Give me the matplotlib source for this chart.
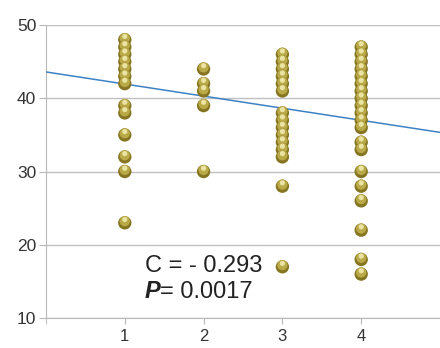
import matplotlib
matplotlib.use("Agg")
import matplotlib.pyplot as plt
import matplotlib.transforms as mtrans
import numpy as np

plt.rcParams['font.family'] = ['Liberation Sans', 'DejaVu Sans']

group1 = [48, 47, 46, 45, 44, 43, 42, 39, 38, 35, 32, 30, 23]
group2 = [44, 42, 41, 39, 30]
group3 = [46, 45, 44, 43, 42, 41, 38, 37, 36, 35, 34, 33, 32, 28, 17]
group4 = [47, 46, 45, 44, 43, 42, 41, 40, 39, 38, 37, 36, 34, 33, 30, 28, 26, 22, 18, 16]
groups = [group1, group2, group3, group4]
x_ticks = [1, 2, 3, 4]
y_ticks = [10, 20, 30, 40, 50]
trend_intercept = 43.6
trend_slope = -1.65
label_c = "C = - 0.293"
label_p = "P"
label_p_val = "= 0.0017"

fig = plt.figure(figsize=(4.4, 3.48), dpi=100)
ax = fig.add_axes([0.1045, 0.086, 0.8955, 0.842])
ax.set_xlim(0, 5)
ax.set_ylim(10, 50)

# trend line
tx = np.array([0, 5])
ax.plot(tx, trend_intercept + trend_slope * tx, color='#3f82c4', lw=1.1, zorder=3)

# golden spheres
xs, ys = [], []
for xv, g in zip(x_ticks, groups):
    xs += [xv] * len(g)
    ys += g
xs = np.array(xs); ys = np.array(ys)
order = np.argsort(-ys)
up = ax.transData + mtrans.ScaledTranslation(0, 1.2/72, fig.dpi_scale_trans)
up2 = ax.transData + mtrans.ScaledTranslation(0, 2.4/72, fig.dpi_scale_trans)
for i in order:
    ax.scatter([xs[i]], [ys[i]], s=92, color='#857521', edgecolors='none', zorder=4)
    ax.scatter([xs[i]], [ys[i]], s=55, color='#b9a947', edgecolors='none', zorder=4, transform=up)
    ax.scatter([xs[i]], [ys[i]], s=14, color='#ebe3a4', edgecolors='none', zorder=4, transform=up2)

ax.set_yticks(y_ticks)
ax.set_xticks(x_ticks)
ax.set_xticks([0, 1, 2, 3, 4, 5], minor=True)
ax.tick_params(axis='x', which='minor', length=4, color='#b8b8b8')
ax.tick_params(axis='x', which='major', length=4, color='#b8b8b8', labelsize=12, labelcolor='#333333', pad=4)
ax.tick_params(axis='y', length=5, color='#b8b8b8', labelsize=12.5, labelcolor='#333333', pad=2)
ax.grid(axis='y', color='#c0c0c0', lw=1)
ax.set_axisbelow(True)
for s in ['top', 'right']:
    ax.spines[s].set_visible(False)
for s in ['left', 'bottom']:
    ax.spines[s].set_color('#b8b8b8')

ax.text(0.251, 0.157, label_c, transform=ax.transAxes, fontsize=17, color='#222222', va='baseline')
ax.text(0.251, 0.068, label_p, transform=ax.transAxes, fontsize=17, color='#222222',
        va='baseline', style='italic', weight='bold')
ax.text(0.251 + 0.038, 0.068, label_p_val, transform=ax.transAxes, fontsize=17, color='#222222', va='baseline')

fig.savefig("out.png", dpi=100)
